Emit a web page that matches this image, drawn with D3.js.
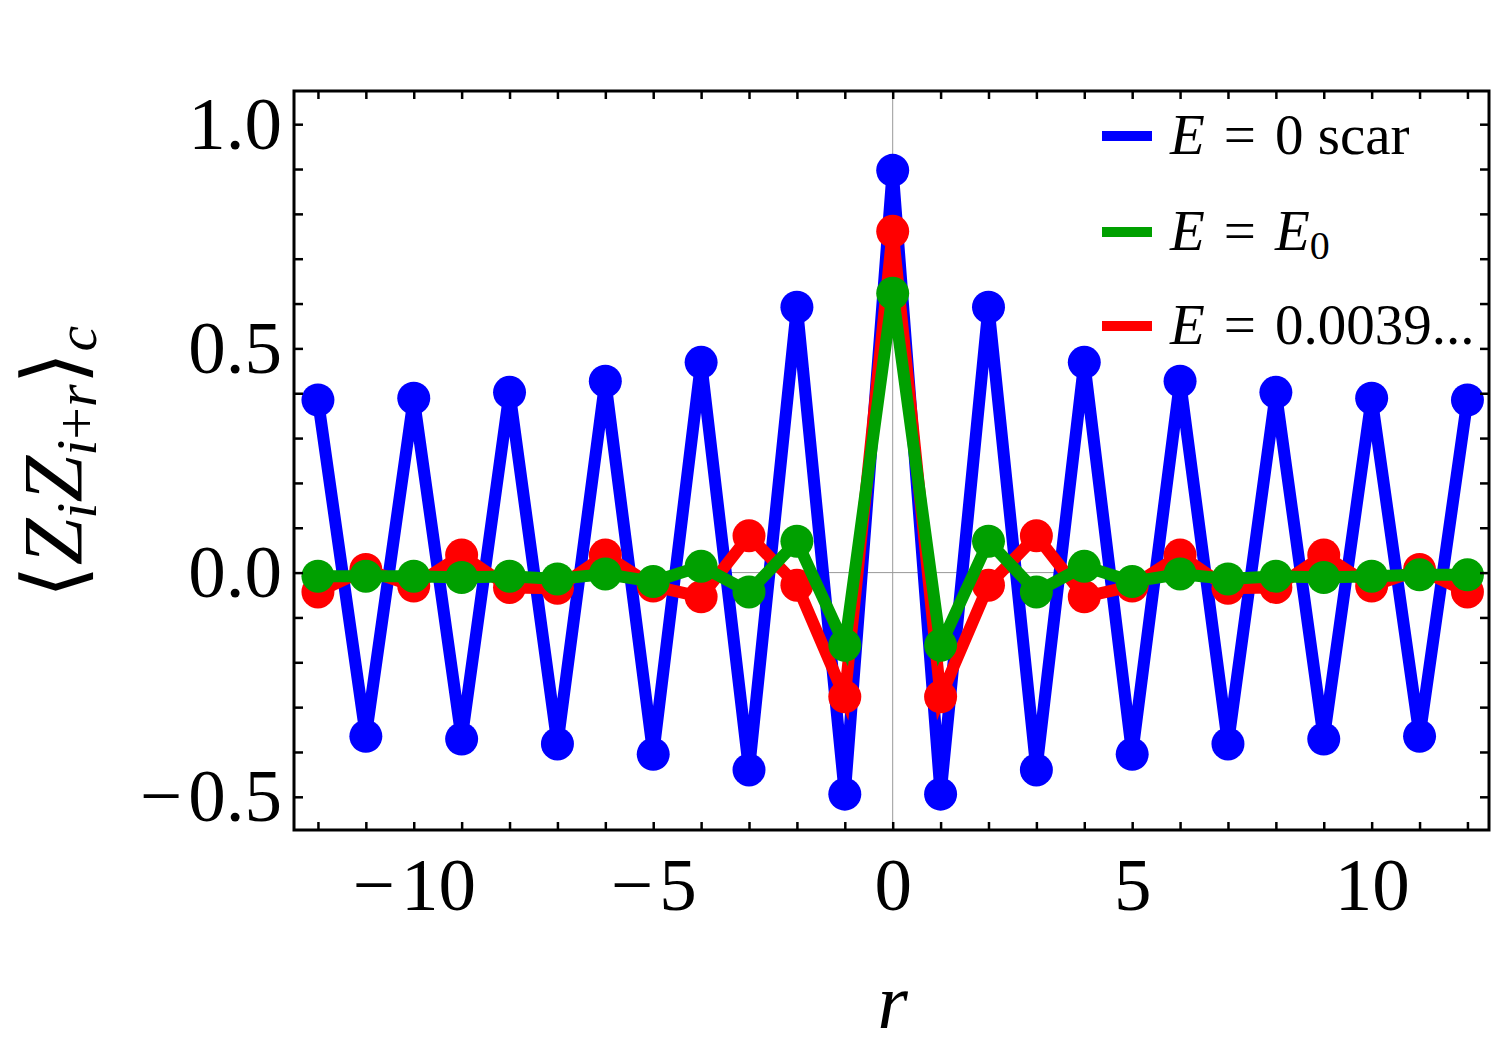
<!DOCTYPE html>
<html>
<head>
<meta charset="utf-8">
<script src="https://cdn.jsdelivr.net/npm/d3@7"></script>
<style>
body { margin: 0; background: #fff; }
text { font-family: "Liberation Serif", "DejaVu Serif", serif; fill: #000; }
</style>
</head>
<body>
<script>
// r values
var rValues = d3.range(-12, 13);

// E = 0 scar
var scarValues = [0.385, -0.365, 0.389, -0.371, 0.402, -0.382, 0.427, -0.405, 0.469, -0.440, 0.592, -0.494,
                  0.897,
                  -0.494, 0.592, -0.440, 0.469, -0.405, 0.427, -0.382, 0.402, -0.371, 0.389, -0.365, 0.385];
// E = E0
var e0Values = [-0.008, -0.008, -0.008, -0.011, -0.008, -0.014, -0.003, -0.020, 0.014, -0.043, 0.070, -0.162,
                0.623,
                -0.162, 0.070, -0.043, 0.014, -0.020, -0.003, -0.014, -0.008, -0.011, -0.008, -0.005, -0.005];
// E = 0.0039...
var e39Values = [-0.043, 0.007, -0.030, 0.039, -0.033, -0.035, 0.039, -0.030, -0.054, 0.082, -0.028, -0.277,
                 0.761,
                 -0.277, -0.028, 0.082, -0.054, -0.030, 0.039, -0.035, -0.033, 0.039, -0.030, 0.007, -0.043];

var seriesColors = {scar: "#0000ff", e0: "#00a000", e39: "#ff0000"};
var drawOrder = ["scar", "e39", "e0"];
var seriesData = {scar: scarValues, e0: e0Values, e39: e39Values};

var xTicks = d3.range(-12, 13);
var xLabelTicks = [-10, -5, 0, 5, 10];
var yTicks = d3.range(-5, 11).map(function(d){ return d / 10; });
var yLabelTicks = [-0.5, 0, 0.5, 1.0];

var W = 1500, H = 1063;
var frame = {left: 294, right: 1489, top: 91, bottom: 830};

var svg = d3.select("body").append("svg")
    .attr("width", W)
    .attr("height", H);

var x = d3.scaleLinear().domain([-12.5, 12.45]).range([frame.left, frame.right]);
var y = d3.scaleLinear().domain([-0.574, 1.074]).range([frame.bottom, frame.top]);

// zero lines
svg.append("line")
    .attr("x1", x(0)).attr("x2", x(0))
    .attr("y1", frame.top).attr("y2", frame.bottom)
    .attr("stroke", "#999").attr("stroke-width", 1);
svg.append("line")
    .attr("x1", frame.left).attr("x2", frame.right)
    .attr("y1", y(0)).attr("y2", y(0))
    .attr("stroke", "#999").attr("stroke-width", 1);

// series
var line = d3.line()
    .x(function(d, i){ return x(rValues[i]); })
    .y(function(d){ return y(d); });

drawOrder.forEach(function(name){
    var vals = seriesData[name];
    var g = svg.append("g").attr("class", "series-" + name);
    g.append("path")
        .datum(vals)
        .attr("d", line)
        .attr("fill", "none")
        .attr("stroke", seriesColors[name])
        .attr("stroke-width", 12)
        .attr("stroke-linejoin", "miter");
    g.selectAll("circle")
        .data(vals)
        .enter()
        .append("circle")
        .attr("cx", function(d, i){ return x(rValues[i]); })
        .attr("cy", function(d){ return y(d); })
        .attr("r", 16.5)
        .attr("fill", seriesColors[name]);
});

// axes
function minus(s){ return s.replace("\u2212", "\u2212\u200A"); }
var fmtX = function(d){ return xLabelTicks.indexOf(d) >= 0 ? minus(d3.format("d")(d)) : ""; };
var fmtY = function(d){
    for (var k = 0; k < yLabelTicks.length; k++) {
        if (Math.abs(yLabelTicks[k] - d) < 1e-9) return minus(d3.format(".1f")(d));
    }
    return "";
};

var axBottom = svg.append("g")
    .attr("transform", "translate(0," + frame.bottom + ")")
    .call(d3.axisBottom(x).tickValues(xTicks).tickSizeInner(-8).tickSizeOuter(0).tickPadding(27).tickFormat(fmtX));
var axTop = svg.append("g")
    .attr("transform", "translate(0," + frame.top + ")")
    .call(d3.axisTop(x).tickValues(xTicks).tickSizeInner(-8).tickSizeOuter(0).tickFormat(""));
var axLeft = svg.append("g")
    .attr("transform", "translate(" + frame.left + ",0)")
    .call(d3.axisLeft(y).tickValues(yTicks).tickSizeInner(-9).tickSizeOuter(0).tickPadding(12).tickFormat(fmtY));
var axRight = svg.append("g")
    .attr("transform", "translate(" + frame.right + ",0)")
    .call(d3.axisRight(y).tickValues(yTicks).tickSizeInner(-9).tickSizeOuter(0).tickFormat(""));

[axBottom, axTop, axLeft, axRight].forEach(function(a){
    a.selectAll(".domain").remove();
    a.selectAll(".tick line").attr("stroke", "#000").attr("stroke-width", 2.5);
    a.selectAll("text")
        .style("font-family", "'Liberation Serif', serif")
        .style("font-size", "75px")
        .attr("fill", "#000");
});

// frame
svg.append("rect")
    .attr("x", frame.left).attr("y", frame.top)
    .attr("width", frame.right - frame.left)
    .attr("height", frame.bottom - frame.top)
    .attr("fill", "none")
    .attr("stroke", "#000")
    .attr("stroke-width", 3);

// x label
svg.append("text")
    .attr("x", x(0))
    .attr("y", 1028)
    .attr("text-anchor", "middle")
    .style("font-size", "78px")
    .style("font-style", "italic")
    .text("r");

// y label
var yl = svg.append("text")
    .attr("transform", "translate(82," + 462 + ") rotate(-90)")
    .attr("text-anchor", "middle")
    .style("font-size", "84px");
yl.append("tspan").text("\u27E8");
yl.append("tspan").style("font-style", "italic").text("Z");
yl.append("tspan").style("font-style", "italic").style("font-size", "58px").attr("dy", 14).text("i");
yl.append("tspan").style("font-style", "italic").attr("dy", -14).text("Z");
yl.append("tspan").style("font-style", "italic").style("font-size", "58px").attr("dy", 14).text("i");
yl.append("tspan").style("font-size", "58px").text("+");
yl.append("tspan").style("font-style", "italic").style("font-size", "58px").text("r");
yl.append("tspan").attr("dy", -14).text("\u27E9");
yl.append("tspan").style("font-style", "italic").style("font-size", "58px").attr("dy", 14).text("c");

// legend
var legendItems = [
    {name: "scar", rest: "\u2004=\u20040 scar"},
    {name: "e0", rest: "\u2004=\u2004"},
    {name: "e39", rest: "\u2004=\u20040.0039..."}
];
var legendY = [136, 232, 326];
var lg = svg.append("g");
legendItems.forEach(function(item, i){
    lg.append("line")
        .attr("x1", 1102).attr("x2", 1152)
        .attr("y1", legendY[i]).attr("y2", legendY[i])
        .attr("stroke", seriesColors[item.name])
        .attr("stroke-width", 10);
    var t = lg.append("text")
        .attr("x", 1170)
        .attr("y", legendY[i] + 18)
        .style("font-size", "57px");
    t.append("tspan").style("font-style", "italic").text("E");
    t.append("tspan").text(item.rest);
    if (item.name === "e0") {
        t.append("tspan").style("font-style", "italic").text("E");
        t.append("tspan").style("font-size", "40px").attr("dy", 9).text("0");
    }
});
</script>
</body>
</html>
